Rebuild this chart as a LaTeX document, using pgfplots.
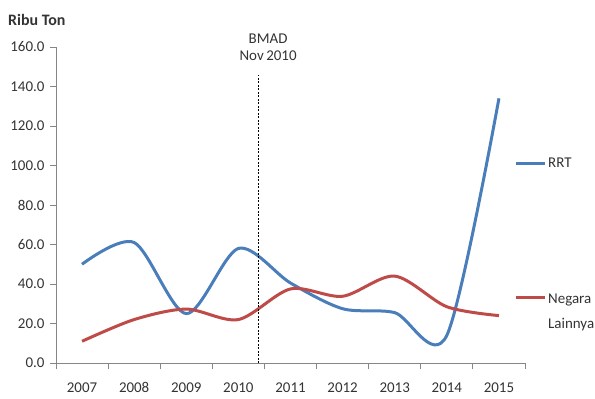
\documentclass[border=0pt]{standalone}
\usepackage{fontspec}
\setmainfont{Carlito}
\usepackage{pgfplots}
\pgfplotsset{compat=1.18}
\definecolor{rrt}{HTML}{4A7EBB}
\definecolor{neg}{HTML}{BE4B48}
\definecolor{axgray}{HTML}{868686}
\definecolor{txt}{HTML}{333333}
\newcommand\lbl{\fontsize{15}{17}\selectfont}

\begin{document}
\begin{tikzpicture}[x=1bp,y=1bp]
\useasboundingbox (-56,-35) rectangle (539,363);
\begin{axis}[
  at={(0,0)}, anchor=south west,
  scale only axis, width=469bp, height=316bp,
  xmin=0.5, xmax=9.5, ymin=0, ymax=160,
  axis x line*=bottom, axis y line*=left,
  axis line style={axgray, line width=0.8bp},
  xtick={0.5,1.5,2.5,3.5,4.5,5.5,6.5,7.5,8.5,9.5},
  x tick label as interval,
  xticklabels={2007,2008,2009,2010,2011,2012,2013,2014,2015},
  ytick={0,20,...,160},
  tick align=outside, major tick length=6bp,
  tick style={axgray, line width=0.8bp},
  /pgf/number format/assume math mode=true,
  ticklabel style={font=\lbl, text=txt},
  xticklabel style={anchor=base, text height=8bp, text depth=0bp, yshift=-23bp},
  yticklabel style={xshift=-2bp, /pgf/number format/.cd, fixed, fixed zerofill, precision=1},
  clip=false,
]
% RRT
\addplot[rrt, line width=3bp, smooth] coordinates {
  (1,50) (2,61) (3,25) (4,58) (5,40.5) (6,27.5) (7,25.5) (8,14) (9,134)};
% Negara Lainnya
\addplot[neg, line width=3bp, smooth] coordinates {
  (1,11) (2,22) (3,27.3) (4,22) (5,37.5) (6,33.8) (7,44) (8,28.5) (9,24)};
% BMAD marker line (November 2010)
\addplot[black, line width=0.8bp, dash pattern=on 2bp off 1.5bp] coordinates {(4.38,0) (4.38,146)};
\node[align=center, font=\lbl, text=txt, inner sep=0] at (axis cs:4.57,160) {BMAD\\Nov\,2010};
\end{axis}
% legend
\draw[rrt, line width=3bp] (460,200) -- (489,200);
\node[anchor=west, font=\lbl, text=txt, inner sep=0] at (492,200) {RRT};
\draw[neg, line width=3bp] (460,66) -- (489,66);
\node[anchor=west, font=\lbl, text=txt, inner sep=0] at (492,63) {Negara};
\node[anchor=west, font=\lbl, text=txt, inner sep=0] at (492,38) {Lainnya};
% unit label
\node[anchor=west, font=\fontsize{16}{18}\selectfont\bfseries, text=txt, inner sep=0] at (-48,343) {Ribu Ton};
\end{tikzpicture}
\end{document}
